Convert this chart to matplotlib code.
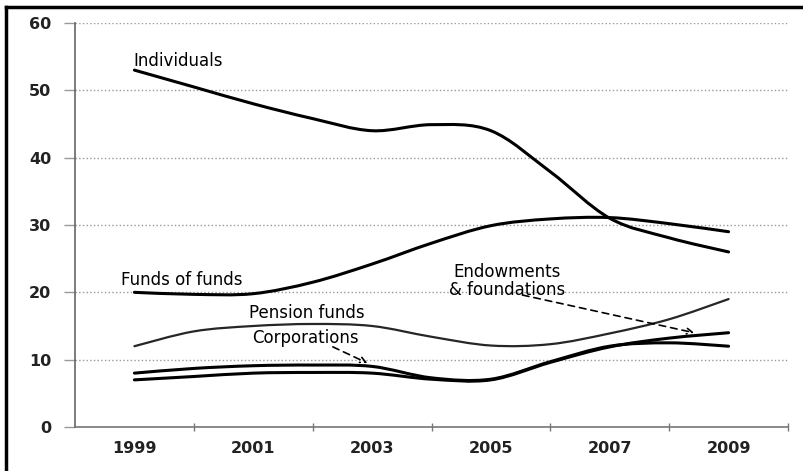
import numpy as np
import matplotlib
matplotlib.use("Agg")
from matplotlib import pyplot as plt
from matplotlib.path import Path
from matplotlib.patches import PathPatch
from matplotlib.lines import Line2D

plt.rcParams['font.family'] = ['DejaVu Sans']

# 投資家別の構成比 (%)
years = [1999, 2000, 2001, 2002, 2003, 2004, 2005, 2006, 2007, 2008, 2009]
individuals = [53, 50.5, 48, 45.8, 44, 44.9, 44.0, 37.9, 31, 28.1, 26]
funds_of_funds = [20, 19.7, 19.8, 21.5, 24.2, 27.3, 29.9, 30.9, 31.1, 30.2, 29]
pension_funds = [12, 14.2, 15.0, 15.3, 15.0, 13.4, 12.1, 12.3, 13.9, 16.0, 19]
corporations = [8, 8.7, 9.1, 9.2, 9.0, 7.3, 7.1, 9.7, 12, 12.5, 12]
endowments = [7, 7.5, 8.0, 8.1, 8.0, 7.1, 7.0, 9.6, 11.9, 13.2, 14]

year_labels = ['1999', '2001', '2003', '2005', '2007', '2009']
y_ticks = [0, 10, 20, 30, 40, 50, 60]


def smooth_path(xs, ys):
    # Excel風のスムージング (ベジェ曲線)
    pts = np.column_stack([xs, ys]).astype(float)
    n = len(pts)
    verts = [pts[0]]
    codes = [Path.MOVETO]
    for i in range(n - 1):
        p0 = pts[max(i - 1, 0)]
        p1 = pts[i]
        p2 = pts[i + 1]
        p3 = pts[min(i + 2, n - 1)]
        verts += [p1 + (p2 - p0) / 6, p2 - (p3 - p1) / 6, p2]
        codes += [Path.CURVE4] * 3
    return Path(verts, codes)


fig = plt.figure(figsize=(8.04, 4.71), dpi=100)
ax = fig.add_axes([0.0933, 0.0934, 0.8868, 0.8578])

series = [
    (individuals, 2.2, 'black'),
    (funds_of_funds, 2.2, 'black'),
    (pension_funds, 1.6, '#262626'),
    (corporations, 2.2, 'black'),
    (endowments, 2.2, 'black'),
]
for vals, lw, col in series:
    ax.add_patch(PathPatch(smooth_path(years, vals), fill=False, lw=lw,
                           edgecolor=col, capstyle='round', joinstyle='round', zorder=3))

ax.set_xlim(1998, 2010)
ax.set_ylim(0, 60)

# 目盛り: 偶数年に目盛り線、奇数年にラベル
ax.set_xticks(np.arange(2000, 2011, 2))
ax.set_xticklabels([])
ax.set_xticks([int(y) for y in year_labels], minor=True)
ax.set_xticklabels(year_labels, minor=True)
ax.tick_params(axis='x', which='major', direction='inout', length=6, color='#777777', width=1)
ax.tick_params(axis='x', which='minor', length=0, pad=10, labelsize=11.5)
ax.set_yticks(y_ticks)
ax.tick_params(axis='y', direction='out', length=8, color='#999999', width=1, pad=9, labelsize=11.5)
for lab in ax.get_xticklabels(minor=True) + ax.get_yticklabels():
    lab.set_fontweight('bold')
    lab.set_color('#222222')

ax.grid(axis='y', linestyle=':', color='#999999', lw=1.0)
ax.set_axisbelow(True)
for s in ['top', 'right']:
    ax.spines[s].set_visible(False)
ax.spines['left'].set_color('#666666')
ax.spines['bottom'].set_color('#777777')
ax.spines['left'].set_linewidth(1.2)
ax.spines['bottom'].set_linewidth(1.2)

# 系列名
txt = dict(fontsize=12, color='black', zorder=4)
ax.text(1998.98, 54.4, 'Individuals', ha='left', va='center', **txt)
ax.text(1998.78, 21.9, 'Funds of funds', ha='left', va='center', **txt)
ax.text(2000.92, 17.0, 'Pension funds', ha='left', va='center', **txt)
ax.text(2000.98, 13.2, 'Corporations', ha='left', va='center', **txt)
ax.text(2005.28, 21.65, 'Endowments\n& foundations', ha='center', va='center',
        linespacing=1.0, **txt)

arrow = dict(arrowstyle='->', linestyle=(0, (4, 3)), color='black', lw=1.2,
             shrinkA=0, shrinkB=0)
ax.annotate('', xy=(2002.92, 9.5), xytext=(2002.34, 11.9), arrowprops=arrow)
ax.annotate('', xy=(2008.42, 14.0), xytext=(2005.53, 19.6), arrowprops=arrow)

# 外枠 (左と上)
fig.add_artist(Line2D([0.0075, 0.0075], [0, 0.985], transform=fig.transFigure,
                      color='black', lw=2.5))
fig.add_artist(Line2D([0.0075, 1.0], [0.985, 0.985], transform=fig.transFigure,
                      color='black', lw=2.5))

plt.savefig('out.png', dpi=100)
